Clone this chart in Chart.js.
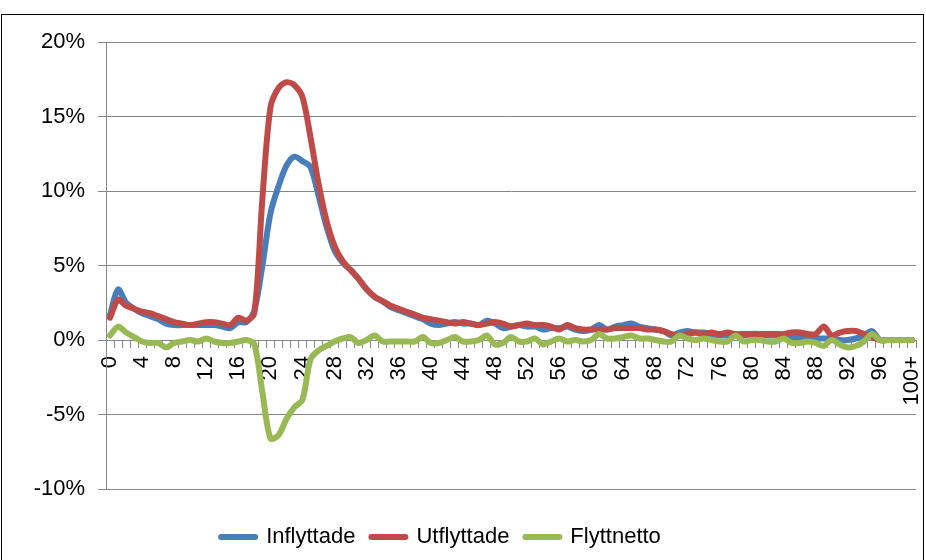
<!DOCTYPE html>
<html>
<head>
<meta charset="utf-8">
<script src="https://cdn.jsdelivr.net/npm/chart.js@4.4.1/dist/chart.umd.min.js"></script>
<style>
  html, body { margin: 0; padding: 0; background: #fff; }
  #wrap { position: relative; width: 926px; height: 560px; overflow: hidden; }
  #frame { position: absolute; left: 1px; top: 14px; width: 921px; height: 560px; border: 1px solid #000; }
  canvas { position: absolute; left: 0; top: 0; }
</style>
</head>
<body>
<div id="wrap">
  <div id="frame"></div>
  <canvas id="myChart" width="926" height="560"></canvas>
</div>
<script>
// Ålder (kategorier)
const alder = [
  '0','1','2','3','4','5','6','7','8','9',
  '10','11','12','13','14','15','16','17','18','19',
  '20','21','22','23','24','25','26','27','28','29',
  '30','31','32','33','34','35','36','37','38','39',
  '40','41','42','43','44','45','46','47','48','49',
  '50','51','52','53','54','55','56','57','58','59',
  '60','61','62','63','64','65','66','67','68','69',
  '70','71','72','73','74','75','76','77','78','79',
  '80','81','82','83','84','85','86','87','88','89',
  '90','91','92','93','94','95','96','97','98','99',
  '100+'
];

// andel i procent
const inflyttade = [
  1.7, 3.4, 2.5, 2.1, 1.8, 1.6, 1.4, 1.1, 1.0, 1.0,
  1.0, 1.0, 1.0, 1.0, 0.9, 0.8, 1.2, 1.2, 2.0, 5.0,
  8.5, 10.3, 11.7, 12.3, 12.0, 11.6, 9.7, 7.6, 6.0, 5.2,
  4.7, 4.1, 3.4, 2.9, 2.6, 2.2, 2.0, 1.8, 1.6, 1.4,
  1.1, 1.0, 1.1, 1.2, 1.1, 1.1, 1.0, 1.3, 1.1, 0.8,
  0.9, 1.0, 0.9, 0.9, 0.7, 0.8, 0.8, 0.9, 0.7, 0.6,
  0.7, 1.0, 0.7, 0.9, 1.0, 1.1, 0.9, 0.8, 0.7, 0.6,
  0.3, 0.5, 0.6, 0.5, 0.5, 0.4, 0.3, 0.3, 0.3, 0.3,
  0.4, 0.4, 0.3, 0.3, 0.2, 0.2, 0.2, 0.2, 0.1, 0.1,
  0.1, 0.0, 0.0, 0.1, 0.3, 0.6, 0.0, 0.0, 0.0, 0.0,
  0.0
];

const utflyttade = [
  1.5, 2.7, 2.3, 2.1, 1.9, 1.8, 1.6, 1.4, 1.2, 1.1,
  1.0, 1.1, 1.2, 1.2, 1.1, 1.0, 1.5, 1.3, 1.8, 9.5,
  15.6, 16.9, 17.3, 17.1, 16.3, 13.6, 10.5, 8.0, 6.3, 5.3,
  4.7, 4.1, 3.4, 2.9, 2.6, 2.3, 2.1, 1.9, 1.7, 1.5,
  1.4, 1.3, 1.2, 1.1, 1.2, 1.1, 1.0, 1.1, 1.2, 1.1,
  0.9, 1.0, 1.1, 1.0, 1.0, 0.9, 0.7, 1.0, 0.8, 0.7,
  0.7, 0.7, 0.7, 0.8, 0.8, 0.8, 0.8, 0.7, 0.7, 0.6,
  0.4, 0.3, 0.4, 0.5, 0.4, 0.5, 0.4, 0.5, 0.4, 0.4,
  0.4, 0.4, 0.4, 0.4, 0.4, 0.5, 0.5, 0.4, 0.4, 0.9,
  0.3, 0.5, 0.6, 0.6, 0.4, 0.2, 0.0, 0.0, 0.0, 0.0,
  0.0
];

const flyttnetto = [
  0.3, 0.9, 0.5, 0.2, -0.1, -0.2, -0.2, -0.5, -0.2, -0.1,
  0.0, -0.1, 0.1, -0.1, -0.2, -0.2, -0.1, 0.0, -0.3, -3.5,
  -6.6, -6.4, -5.3, -4.5, -4.0, -1.3, -0.7, -0.4, -0.1, 0.1,
  0.2, -0.2, 0.0, 0.3, -0.1, -0.1, -0.1, -0.1, -0.1, 0.2,
  -0.2, -0.2, 0.0, 0.2, -0.1, -0.1, 0.0, 0.3, -0.3, -0.2,
  0.2, -0.1, -0.1, 0.1, -0.3, -0.1, 0.1, -0.1, 0.0, -0.1,
  0.0, 0.4, 0.1, 0.1, 0.2, 0.3, 0.1, 0.1, 0.0, -0.1,
  -0.1, 0.3, 0.1, 0.0, 0.1, 0.0, -0.1, -0.1, 0.3, -0.1,
  0.0, 0.0, -0.1, -0.1, 0.1, -0.2, -0.2, -0.1, -0.2, -0.4,
  0.0, -0.3, -0.5, -0.4, -0.1, 0.4, 0.0, 0.0, 0.0, 0.0,
  0.0
];

const FONT = "'Liberation Sans', Arial, sans-serif";
const GRID = '#868686';

// flytta legenden lite åt vänster som i Excel
const legendShift = {
  id: 'legendShift',
  afterLayout(chart) {
    chart.legend.left -= 17;
    chart.legend.right -= 17;
  }
};

const ctx = document.getElementById('myChart');

new Chart(ctx, {
  type: 'line',
  data: {
    labels: alder,
    datasets: [{
      label: 'Inflyttade',
      data: inflyttade,
      borderColor: '#4A7EBB',
      backgroundColor: '#4A7EBB',
      order: 3
    }, {
      label: 'Utflyttade',
      data: utflyttade,
      borderColor: '#BE4B48',
      backgroundColor: '#BE4B48',
      order: 2
    }, {
      label: 'Flyttnetto',
      data: flyttnetto,
      borderColor: '#98B954',
      backgroundColor: '#98B954',
      order: 1
    }]
  },
  options: {
    responsive: false,
    animation: false,
    layout: { padding: { top: 42, right: 10, bottom: 2, left: 0 } },
    elements: {
      point: { radius: 0 },
      line: { borderWidth: 6, tension: 0.3, borderCapStyle: 'round', borderJoinStyle: 'round', fill: false }
    },
    scales: {
      x: {
        position: { y: 0 },
        offset: true,
        grid: { offset: true, drawOnChartArea: false, drawTicks: true, tickLength: 7, color: GRID },
        border: { color: GRID },
        ticks: {
          autoSkip: false,
          minRotation: 90,
          maxRotation: 90,
          padding: 9,
          color: '#000',
          font: { family: FONT, size: 22 },
          callback: function (val, i) {
            return i % 4 === 0 ? this.getLabelForValue(val) : '';
          }
        },
        afterFit: s => { s.paddingLeft = 0; s.paddingRight = 0; }
      },
      y: {
        min: -10,
        max: 20,
        ticks: {
          stepSize: 5,
          padding: 13,
          color: '#000',
          font: { family: FONT, size: 22 },
          callback: v => v + '%'
        },
        grid: { color: GRID, tickLength: 8 },
        border: { color: GRID },
        afterFit: s => { s.width = 106; }
      }
    },
    plugins: {
      legend: {
        position: 'bottom',
        title: { display: true, text: '', padding: { top: 6.6, bottom: 0 } },
        labels: {
          usePointStyle: true,
          pointStyle: 'line',
          pointStyleWidth: 34,
          padding: 16,
          color: '#000',
          font: { family: FONT, size: 22 },
          sort: (a, b) => a.datasetIndex - b.datasetIndex,
          generateLabels: chart => {
            const items = Chart.defaults.plugins.legend.labels.generateLabels(chart);
            items.forEach(it => { it.lineWidth = 6; it.lineCap = 'round'; });
            return items;
          }
        }
      },
      tooltip: { enabled: false }
    }
  },
  plugins: [legendShift]
});
</script>
</body>
</html>
